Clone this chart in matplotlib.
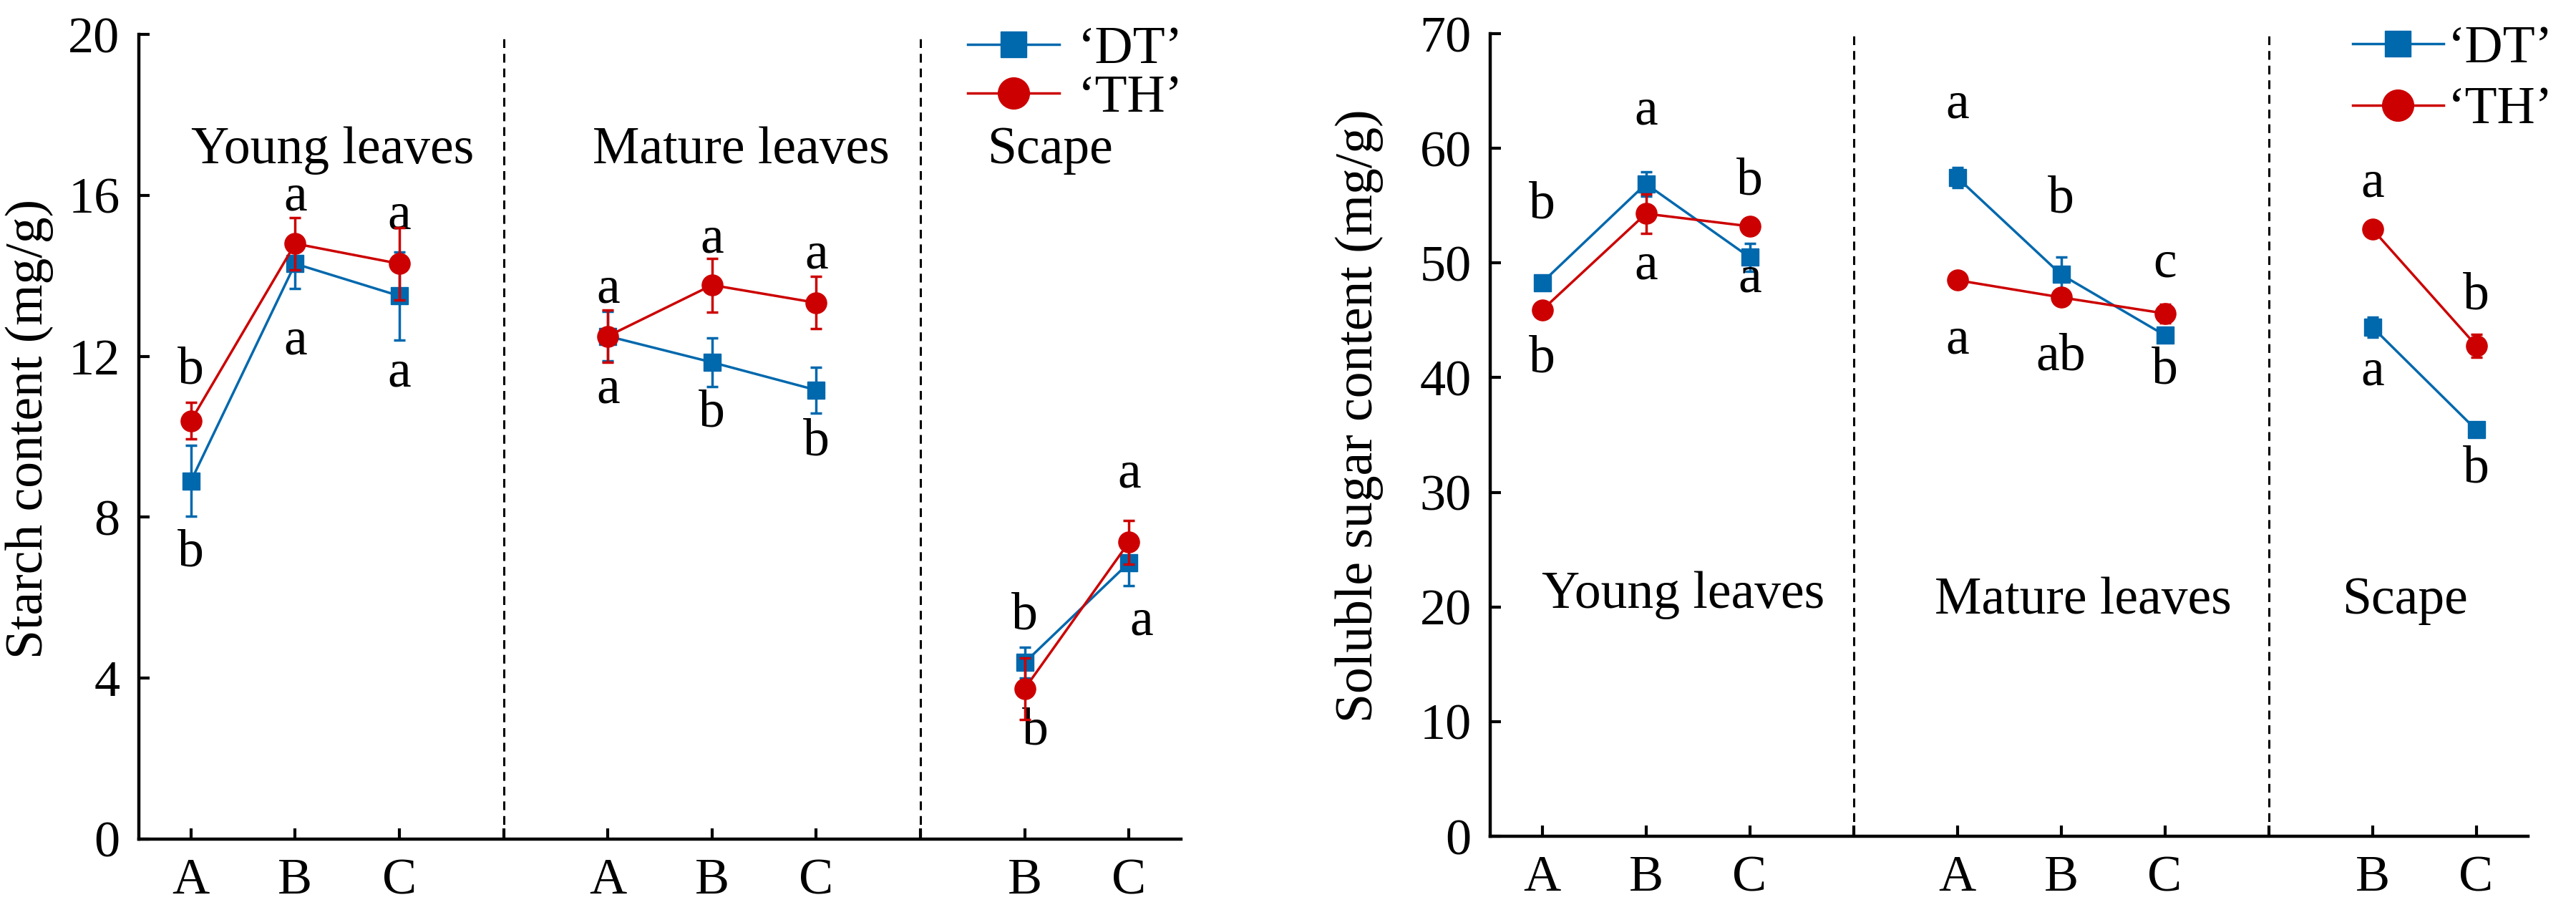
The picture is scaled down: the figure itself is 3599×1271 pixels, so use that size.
import matplotlib
matplotlib.use('Agg')
import matplotlib.pyplot as plt

plt.rcParams['font.family'] = ['Liberation Serif', 'DejaVu Serif']

# x layout: young A B C | mature A B C | scape B C
x_pos = [1, 2, 3, 5, 6, 7, 9, 10]
groups = [(0, 3), (3, 6), (6, 8)]
tick_pos = [1, 2, 3, 4, 5, 6, 7, 8, 9, 10]
tick_labels = ['A', 'B', 'C', '', 'A', 'B', 'C', '', 'B', 'C']
group_names = ['Young leaves', 'Mature leaves', 'Scape']

# starch content (mg/g)
starch_dt = [8.9, 14.3, 13.5, 12.5, 11.85, 11.16, 4.39, 6.87]
starch_dt_err = [0.88, 0.62, 1.1, 0.62, 0.6, 0.57, 0.38, 0.57]
starch_th = [10.4, 14.8, 14.3, 12.5, 13.77, 13.33, 3.74, 7.38]
starch_th_err = [0.46, 0.65, 0.9, 0.65, 0.67, 0.65, 0.76, 0.54]
starch_top = ['b', 'a', 'a', 'a', 'a', 'a', 'b', 'a']
starch_top_y = [11.65, 15.94, 15.48, 13.65, 14.9, 14.5, 5.53, 9.07]
starch_bot = ['b', 'a', 'a', 'a', 'b', 'b', 'b', 'a']
starch_bot_y = [7.1, 12.37, 11.57, 11.16, 10.57, 9.86, 2.67, 5.4]

# soluble sugar content (mg/g)
sugar_dt = [48.3, 56.9, 50.5, 57.45, 49.0, 43.7, 44.4, 35.45]
sugar_dt_err = [0.5, 1.05, 1.2, 0.9, 1.5, 0.5, 0.9, 0.3]
sugar_th = [45.9, 54.3, 53.2, 48.5, 47.0, 45.6, 52.95, 42.8]
sugar_th_err = [0.6, 1.7, 0.4, 0.3, 0.6, 0.8, 0.4, 1.0]
sugar_top = ['b', 'a', 'b', 'a', 'b', 'c', 'a', 'b']
sugar_top_y = [55.0, 63.2, 57.1, 63.75, 55.5, 49.9, 56.9, 47.1]
sugar_bot = ['b', 'a', 'a', 'a', 'ab', 'b', 'a', 'b']
sugar_bot_y = [41.6, 49.7, 48.6, 43.2, 41.8, 40.6, 40.5, 32.0]

blue = '#0068ad'
red = '#cc0000'
fs = 53

fig = plt.figure(figsize=(35.99, 12.71), dpi=100)
ax1 = fig.add_axes([0.0539, 0.0779, 0.4046, 0.8843])
ax2 = fig.add_axes([0.5785, 0.0810, 0.4029, 0.8820])


def draw_panel(ax, dt, dt_err, th, th_err, top, top_y, bot, bot_y,
               ymax, ystep, ylabel, name_x, name_y, bot_x):
    for k, (i0, i1) in enumerate(groups):
        xs = x_pos[i0:i1]
        ax.errorbar(xs, dt[i0:i1], yerr=dt_err[i0:i1], fmt='none', ecolor=blue,
                    elinewidth=2.5, capsize=6, capthick=2.5, zorder=3)
        ax.plot(xs, dt[i0:i1], color=blue, lw=2.5, marker='s', ms=17,
                label="\u2018DT\u2019" if k == 0 else None, zorder=3)
        ax.errorbar(xs, th[i0:i1], yerr=th_err[i0:i1], fmt='none', ecolor=red,
                    elinewidth=2.5, capsize=6, capthick=2.5, zorder=4)
        ax.plot(xs, th[i0:i1], color=red, lw=2.5, marker='o', ms=21,
                label="\u2018TH\u2019" if k == 0 else None, zorder=4)

    # significance letters
    for i, x in enumerate(x_pos):
        ax.text(x, top_y[i], top[i], ha='center', va='center', fontsize=fs)
        ax.text(bot_x[i], bot_y[i], bot[i], ha='center', va='center', fontsize=fs)

    for j, g in enumerate(group_names):
        ax.text(name_x[j], name_y[j], g, ha='center', va='baseline', fontsize=fs)

    for xd in [4, 8]:
        ax.axvline(xd, color='black', lw=2.2, ls=(0, (4, 2.7)), zorder=1)

    ax.set_xlim(0.5, 10.5)
    ax.set_ylim(0, ymax)
    ax.set_yticks(range(0, ymax + 1, ystep))
    ax.set_xticks(tick_pos)
    ax.set_xticklabels(tick_labels)
    ax.spines['top'].set_visible(False)
    ax.spines['right'].set_visible(False)
    ax.spines['left'].set_linewidth(3.2)
    ax.spines['bottom'].set_linewidth(3.2)
    ax.tick_params(direction='in', length=11, width=3, labelsize=fs - 1, pad=19)
    ax.set_ylabel(ylabel, fontsize=fs)


draw_panel(ax1, starch_dt, starch_dt_err, starch_th, starch_th_err,
           starch_top, starch_top_y, starch_bot, starch_bot_y,
           20, 4, 'Starch content (mg/g)',
           [2.36, 6.28, 9.24], [16.8, 16.8, 16.8],
           [1, 2, 3, 5, 6, 7, 9.1, 10.12])
draw_panel(ax2, sugar_dt, sugar_dt_err, sugar_th, sugar_th_err,
           sugar_top, sugar_top_y, sugar_bot, sugar_bot_y,
           70, 10, 'Soluble sugar content (mg/g)',
           [2.36, 6.21, 9.31], [19.9, 19.4, 19.4],
           x_pos)

ax1.yaxis.set_label_coords(-0.082, 0.51)
ax2.yaxis.set_label_coords(-0.103, 0.524)

ax1.legend(loc='center left', bbox_to_anchor=(0.795, 0.95), frameon=False,
           fontsize=fs, borderpad=0, borderaxespad=0, handlelength=1.74,
           handletextpad=0.35, labelspacing=0.01, markerscale=1.5)
ax2.legend(loc='center left', bbox_to_anchor=(0.831, 0.942), frameon=False,
           fontsize=fs, borderpad=0, borderaxespad=0, handlelength=1.72,
           handletextpad=0.08, labelspacing=0.24, markerscale=1.5)

fig.savefig('out.png', dpi=100)
